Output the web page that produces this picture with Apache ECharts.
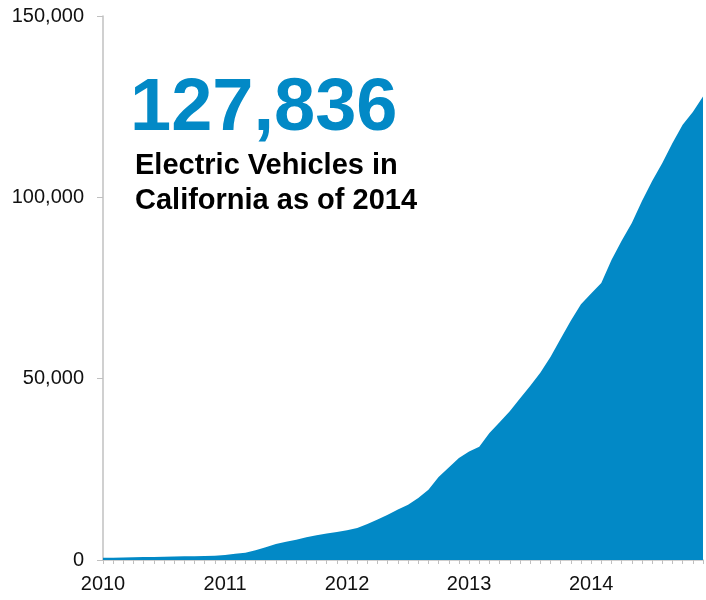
<!DOCTYPE html>
<html>
<head>
<meta charset="utf-8">
<script src="https://cdn.jsdelivr.net/npm/echarts@6/dist/echarts.min.js"></script>
<style>
html,body{margin:0;padding:0;background:#fff;}
#chart{width:706px;height:600px;}
</style>
</head>
<body>
<div id="chart"></div>
<script>
// Monthly cumulative EV counts, Jan 2010 .. Dec 2014
var months = [];
for (var yr = 2010; yr <= 2014; yr++) {
  for (var m = 1; m <= 12; m++) {
    months.push(yr + '-' + (m < 10 ? '0' + m : m));
  }
}
var evCounts = [
  600, 650, 700, 750, 800, 850, 900, 950, 1000, 1050, 1100, 1200,
  1400, 1700, 2000, 2700, 3500, 4400, 5000, 5600, 6300, 6800, 7300, 7700,
  8200, 8800, 9900, 11200, 12500, 13900, 15200, 17100, 19400, 22900, 25500, 28100,
  29900, 31200, 35000, 38000, 41000, 44500, 48000, 51600, 56000, 61000, 66000, 70500,
  73500, 76400, 82700, 88000, 92900, 99000, 104500, 109500, 115000, 120000, 123500, 127836
];
var yTicks = [0, 50000, 100000, 150000];
var headline = evCounts[evCounts.length - 1].toLocaleString('en-US');
var subLines = ['Electric Vehicles in', 'California as of 2014'];

var FONT = '"Liberation Sans", Arial, Helvetica, sans-serif';
var chart = echarts.init(document.getElementById('chart'));
chart.setOption({
  animation: false,
  backgroundColor: '#ffffff',
  grid: { left: 103, right: 0, top: 16, bottom: 40, containLabel: false },
  xAxis: {
    type: 'category',
    data: months,
    boundaryGap: false,
    axisLine: { show: true, lineStyle: { color: '#c0c0c0', width: 1.5 } },
    axisTick: { show: true, interval: 0, length: 4, lineStyle: { color: '#c0c0c0' } },
    axisLabel: {
      interval: 0,
      margin: 14,
      color: '#111',
      fontFamily: FONT,
      fontSize: 20,
      formatter: function (v) { return v.slice(5) === '01' ? v.slice(0, 4) : ''; }
    },
    splitLine: { show: false }
  },
  yAxis: {
    type: 'value',
    min: yTicks[0],
    max: yTicks[yTicks.length - 1],
    interval: 50000,
    axisLine: { show: true, lineStyle: { color: '#c0c0c0', width: 1.5 } },
    axisTick: { show: true, length: 6, lineStyle: { color: '#c0c0c0' } },
    axisLabel: {
      margin: 19,
      color: '#111',
      fontFamily: FONT,
      fontSize: 20,
      formatter: function (v) { return v.toLocaleString('en-US'); }
    },
    splitLine: { show: false }
  },
  series: [{
    type: 'line',
    data: evCounts,
    symbol: 'none',
    lineStyle: { width: 0 },
    areaStyle: { color: '#0289c6', opacity: 1 },
    itemStyle: { color: '#0289c6' }
  }],
  graphic: [
    { type: 'text', x: 130, y: 110, style: { text: headline, font: 'bold 74px ' + FONT, fill: '#0289c6', verticalAlign: 'middle', align: 'left' } },
    { type: 'text', x: 135, y: 166, style: { text: subLines[0], font: 'bold 29px ' + FONT, fill: '#000', verticalAlign: 'middle', align: 'left' } },
    { type: 'text', x: 135, y: 201, style: { text: subLines[1], font: 'bold 29px ' + FONT, fill: '#000', verticalAlign: 'middle', align: 'left' } }
  ]
});
</script>
</body>
</html>
